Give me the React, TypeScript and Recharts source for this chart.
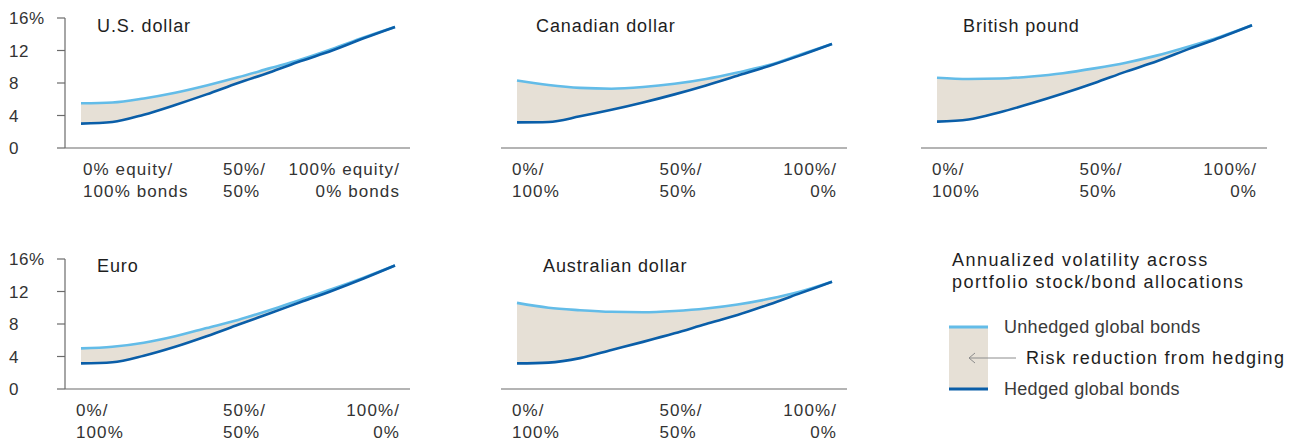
import React from 'react';
import { ComposedChart, Area, Line, XAxis, YAxis } from 'recharts';

// stock share of the portfolio, 0% .. 100% in 10% steps
const allocations = [0, 10, 20, 30, 40, 50, 60, 70, 80, 90, 100];
const yTicks = [0, 4, 8, 12, 16];
const xTicks = [0, 50, 100];

const longTickLabels = [['0% equity/', '100% bonds'], ['50%/', '50%'], ['100% equity/', '0% bonds']];
const shortTickLabels = [['0%/', '100%'], ['50%/', '50%'], ['100%/', '0%']];

const usdUnhedged = [5.5, 5.6, 6.1, 6.8, 7.7, 8.7, 9.8, 10.9, 12.2, 13.6, 14.9];
const usdHedged = [3.0, 3.2, 4.1, 5.3, 6.6, 8.0, 9.3, 10.7, 12.0, 13.5, 14.9];

const cadUnhedged = [8.3, 7.75, 7.4, 7.3, 7.5, 7.9, 8.5, 9.3, 10.2, 11.5, 12.8];
const cadHedged = [3.15, 3.2, 3.9, 4.7, 5.6, 6.6, 7.7, 8.9, 10.1, 11.4, 12.8];

const gbpUnhedged = [8.65, 8.5, 8.55, 8.8, 9.2, 9.8, 10.5, 11.4, 12.5, 13.7, 15.1];
const gbpHedged = [3.25, 3.5, 4.4, 5.5, 6.7, 8.0, 9.4, 10.7, 12.2, 13.6, 15.1];

const eurUnhedged = [5.0, 5.2, 5.7, 6.5, 7.5, 8.5, 9.7, 11.0, 12.3, 13.7, 15.2];
const eurHedged = [3.15, 3.3, 4.1, 5.2, 6.5, 7.9, 9.3, 10.7, 12.1, 13.6, 15.2];

const audUnhedged = [10.6, 10.0, 9.7, 9.5, 9.45, 9.6, 9.9, 10.4, 11.1, 12.0, 13.2];
const audHedged = [3.15, 3.25, 3.8, 4.8, 5.8, 6.85, 8.0, 9.1, 10.4, 11.8, 13.2];

const LIGHT_BLUE = '#63bce8';
const DARK_BLUE = '#0a5ea8';
const BEIGE = '#e6e0d6';
const AXIS = '#6b6b6b';
const FONT = '"Liberation Sans", Arial, sans-serif';

const buildRows = (unhedged: number[], hedged: number[]) =>
  allocations.map((a, i) => ({
    x: a,
    unhedged: unhedged[i],
    hedged: hedged[i],
    range: [hedged[i], unhedged[i]],
  }));

const tickText = { fontSize: 17, fill: '#333', fontFamily: FONT, letterSpacing: 1.1 };

const YTick = ({ y, payload }: any) => (
  <text x={9} y={y} dy={6} textAnchor="start" {...tickText} letterSpacing={0.6}>
    {payload.value === 16 ? '16%' : payload.value}
  </text>
);

const makeXTick = (labels: string[][], firstDx: number) => ({ x, y, payload }: any) => {
  const i = xTicks.indexOf(payload.value);
  const anchor = i === 2 ? 'end' : 'start';
  const dx = i === 0 ? firstDx : i === 1 ? -15 : 5;
  return (
    <g>
      <text x={x + dx} y={y + 27} textAnchor={anchor} {...tickText}>
        {labels[i][0]}
      </text>
      <text x={x + dx} y={y + 49} textAnchor={anchor} {...tickText}>
        {labels[i][1]}
      </text>
    </g>
  );
};

interface PanelProps {
  unhedged: number[];
  hedged: number[];
  left: number;
  top: number;
  withYAxis?: boolean;
  longLabels?: boolean;
}

const Panel: React.FC<PanelProps> = ({ unhedged, hedged, left, top, withYAxis = false, longLabels = false }) => {
  const data = buildRows(unhedged, hedged);
  const width = withYAxis ? 420 : 356;
  return (
    <div style={{ position: 'absolute', left, top }}>
      <ComposedChart width={width} height={200} data={data} margin={{ top: 18, right: 10, left: 0, bottom: 0 }}>
        <XAxis
          dataKey="x"
          type="number"
          domain={[0, 100]}
          ticks={xTicks}
          padding={{ left: 16, right: 15 }}
          height={52}
          tickSize={0}
          tickMargin={0}
          tickLine={false}
          axisLine={{ stroke: AXIS, strokeWidth: 1.2 }}
          tick={makeXTick(longLabels ? longTickLabels : shortTickLabels, longLabels ? 2 : -5)}
          interval={0}
        />
        <YAxis
          type="number"
          domain={[0, 16]}
          ticks={yTicks}
          hide={!withYAxis}
          width={withYAxis ? 65 : 0}
          tickSize={8}
          axisLine={{ stroke: AXIS, strokeWidth: 1.2 }}
          tickLine={{ stroke: AXIS, strokeWidth: 1.2 }}
          tick={<YTick />}
          interval={0}
        />
        <Area dataKey="range" type="monotone" fill={BEIGE} fillOpacity={1} stroke="none" isAnimationActive={false} />
        <Line dataKey="unhedged" type="monotone" stroke={LIGHT_BLUE} strokeWidth={2.6} dot={false} isAnimationActive={false} />
        <Line dataKey="hedged" type="monotone" stroke={DARK_BLUE} strokeWidth={2.6} dot={false} isAnimationActive={false} />
      </ComposedChart>
    </div>
  );
};

const titleStyle = { fontSize: 18, fill: '#1e1e1e', fontFamily: FONT, letterSpacing: 0.9 };
const legendTitle = { fontSize: 18, fill: '#1e1e1e', fontFamily: FONT, letterSpacing: 1.45 };
const legendStyle = { fontSize: 18, fill: '#3a3a3a', fontFamily: FONT, letterSpacing: 0.3 };
const riskStyle = { fontSize: 18, fill: '#1e1e1e', fontFamily: FONT, letterSpacing: 1.3 };

export default function App() {
  return (
    <div style={{ position: 'fixed', left: 0, top: 0, width: 1298, height: 442, background: '#fff', overflow: 'hidden' }}>
      <svg width={1298} height={442} style={{ position: 'absolute', left: 0, top: 0 }}>
        <text x={97} y={32} {...titleStyle}>U.S. dollar</text>
        <text x={536} y={32} {...titleStyle}>Canadian dollar</text>
        <text x={963} y={32} {...titleStyle}>British pound</text>
        <text x={97} y={272} {...titleStyle}>Euro</text>
        <text x={543} y={272} {...titleStyle}>Australian dollar</text>

        <text x={952} y={266} {...legendTitle}>Annualized volatility across</text>
        <text x={952} y={288} {...legendTitle}>portfolio stock/bond allocations</text>

        <rect x={949} y={327} width={39} height={62} fill={BEIGE} />
        <line x1={949} x2={988} y1={327} y2={327} stroke={LIGHT_BLUE} strokeWidth={3} />
        <line x1={949} x2={988} y1={389} y2={389} stroke={DARK_BLUE} strokeWidth={3} />
        <line x1={969} x2={1016} y1={358} y2={358} stroke="#8c8c8c" strokeWidth={1} />
        <polyline points="975,353 969,358 975,363" fill="none" stroke="#8c8c8c" strokeWidth={1} />
        <text x={1004} y={333} {...legendStyle}>Unhedged global bonds</text>
        <text x={1026} y={364} {...riskStyle}>Risk reduction from hedging</text>
        <text x={1004} y={395} {...legendStyle}>Hedged global bonds</text>
      </svg>

      <Panel unhedged={usdUnhedged} hedged={usdHedged} left={0} top={0} withYAxis longLabels />
      <Panel unhedged={cadUnhedged} hedged={cadHedged} left={501} top={0} />
      <Panel unhedged={gbpUnhedged} hedged={gbpHedged} left={921} top={0} />
      <Panel unhedged={eurUnhedged} hedged={eurHedged} left={0} top={241} withYAxis />
      <Panel unhedged={audUnhedged} hedged={audHedged} left={501} top={241} />
    </div>
  );
}
